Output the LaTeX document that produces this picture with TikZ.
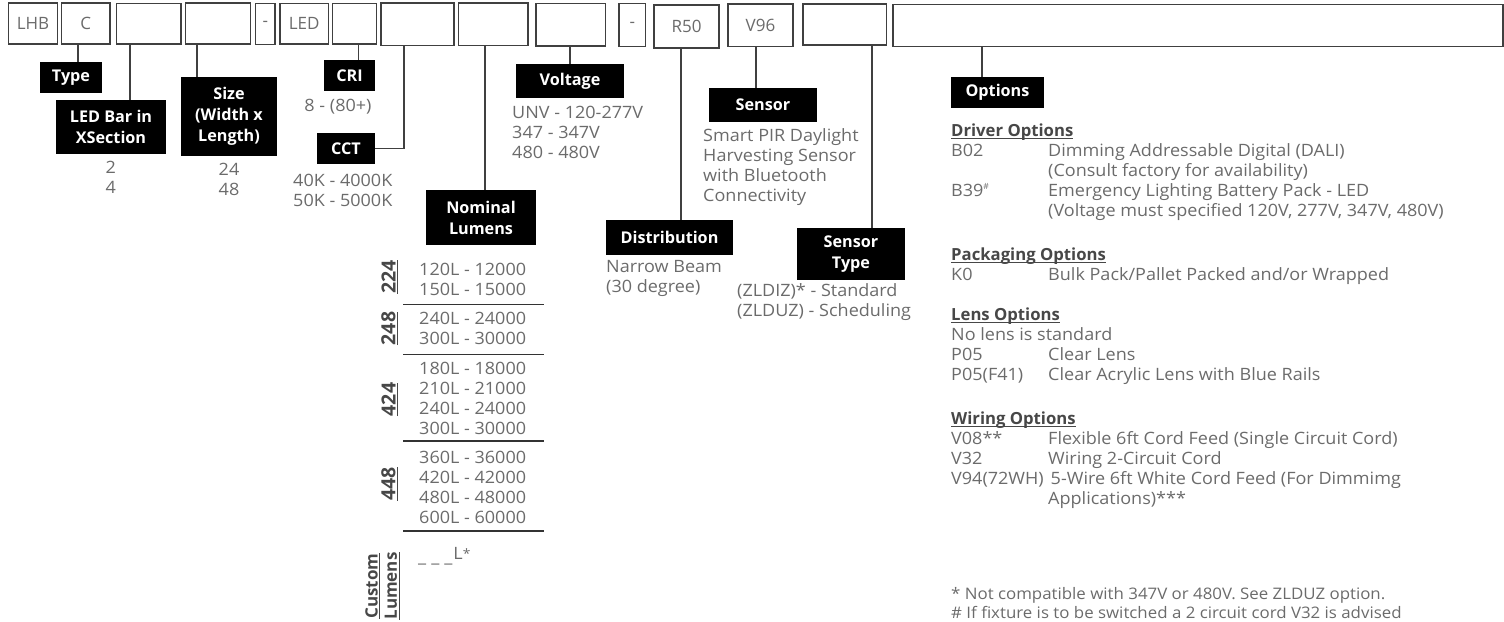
\documentclass[tikz,border=0pt]{standalone}
\usepackage{fontspec}
\setmainfont{Open Sans}
\newfontfamily\widef{Open Sans}[FakeStretch=1.06]
\tikzset{
 x=1pt,y=-1pt,
 boxg/.style={draw=black!75,line width=1.2pt,fill=white,inner sep=0pt,text=black!58,font=\fontsize{17}{18}\selectfont},
 lab/.style={fill=black,text=white,inner sep=0pt,align=center,font=\fontsize{16.2}{21}\selectfont\bfseries},
 conn/.style={draw=black!75,line width=1.1pt},
 txt/.style={anchor=west,inner sep=0pt,text=black!58,align=left,font=\widef\fontsize{17}{20}\selectfont},
 ctxt/.style={inner sep=0pt,text=black!58,align=center,font=\widef\fontsize{17}{20}\selectfont},
 ol/.style={anchor=base west,inner sep=0pt,text=black!58,font=\widef\fontsize{17}{20}\selectfont},
 head/.style={anchor=base west,inner sep=0pt,text=black!72,font=\fontsize{16.7}{20}\selectfont\bfseries},
 rot/.style={rotate=90,inner sep=0pt,text=black!72,font=\fontsize{17}{20}\selectfont\bfseries},
 rotnum/.style={rot,font=\fontsize{19.5}{20}\selectfont\bfseries},
 hr/.style={draw=black!80,line width=1.1pt},
 foot/.style={anchor=base west,inner sep=0pt,text=black!58,font=\widef\fontsize{15.9}{18}\selectfont}
}
\newcommand{\bx}[6]{\node[boxg,minimum width=#4-#2,minimum height=#5-#3] (#1) at ({(#2+#4)/2},{(#3+#5)/2}) {#6};}
\newcommand{\lb}[6]{\node[lab,minimum width=#4-#2,minimum height=#5-#3] (#1) at ({(#2+#4)/2},{(#3+#5)/2}) {#6};}
\newsavebox{\ulbox}
\newcommand{\ul}[1]{\sbox{\ulbox}{#1}\rlap{\raisebox{-2.6pt}[0pt][0pt]{\rule{\wd\ulbox}{1pt}}}\usebox{\ulbox}}
\begin{document}
\begin{tikzpicture}
\useasboundingbox (0,0) rectangle (1504,621);
% top boxes
\bx{bLHB}{8.5}{3}{57.5}{44}{LHB}
\bx{bC}{61.5}{3}{110}{44}{C}
\bx{bBar}{116.5}{3.5}{181}{44}{}
\bx{bSize}{185.5}{3}{250.5}{44}{}
\bx{bD}{255.5}{3.5}{275}{44.5}{-}
\bx{bLED}{280}{3.5}{328.5}{44}{LED}
\bx{bCRI}{332.5}{3.5}{376.5}{44}{}
\bx{bCCT}{381}{3}{454}{45.5}{}
\bx{bLum}{458.5}{3}{528}{45.5}{}
\bx{bVolt}{536}{3.5}{605.5}{46}{}
\bx{bDb}{619}{3.5}{645.5}{46.5}{-}
\bx{bR}{654}{5}{719}{48}{R50}
\bx{bV}{728}{4}{793}{46.5}{V96}
\bx{bST}{803}{4}{886.5}{45}{}
\bx{bOpt}{893}{4.5}{1503}{46.5}{}
% labels
\lb{lType}{40}{62}{102}{93}{Type}
\lb{lBar}{56}{100}{166}{154}{LED Bar in\\XSection}
\lb{lSize}{181}{77}{277}{156}{Size\\(Width x\\Length)}
\lb{lCRI}{324}{60}{375}{91}{CRI}
\lb{lCCT}{317}{133}{375}{164}{CCT}
\lb{lNom}{426}{190}{536}{245}{Nominal\\Lumens}
\lb{lVolt}{516}{64}{624}{98}{Voltage}
\lb{lSen}{709}{88}{817}{122}{Sensor}
\lb{lDist}{606}{220}{733}{255}{Distribution}
\lb{lST}{797}{228}{905}{280}{Sensor\\Type}
\lb{lOpt}{951}{77}{1044}{108}{Options}
% connectors
\draw[conn] (78,0 |- bC.south) -- (78,0 |- lType.north);
\draw[conn] (130,0 |- bBar.south) -- (130,0 |- lBar.north);
\draw[conn] (197,0 |- bSize.south) -- (197,0 |- lSize.north);
\draw[conn] (358.7,0 |- bCRI.south) -- (358.7,0 |- lCRI.north);
\draw[conn] (404,0 |- bCCT.south) |- (lCCT.east);
\draw[conn] (485,0 |- bLum.south) -- (485,0 |- lNom.north);
\draw[conn] (570,0 |- bVolt.south) -- (570,0 |- lVolt.north);
\draw[conn] (681,0 |- bR.south) -- (681,0 |- lDist.north);
\draw[conn] (756,0 |- bV.south) -- (756,0 |- lSen.north);
\draw[conn] (872,0 |- bST.south) -- (872,0 |- lST.north);
\draw[conn] (982,0 |- bOpt.south) -- (982,0 |- lOpt.north);
% value text
\node[ctxt] (t1) at (110.7,177) {2\\4};
\node[ctxt] (t2) at (229,179) {24\\48};
\node[ctxt] (t3) at (338,107) {8 - (80+)};
\node[txt] (t4) at (293,190) {40K - 4000K\\50K - 5000K};
\node[txt] (t5) at (512,132) {UNV - 120-277V\\347 - 347V\\480 - 480V};
\node[txt] (t6) at (703,167) {Smart PIR Daylight\\Harvesting Sensor\\with Bluetooth\\Connectivity};
\node[txt] (t7) at (606,278) {Narrow Beam\\(30 degree)};
\node[txt] (t8) at (737,302) {(ZLDIZ)* - Standard\\(ZLDUZ) - Scheduling};
% lumens
\node[txt] (n1) at (419,279) {120L - 12000\\150L - 15000};
\node[txt] (n2) at (419,328) {240L - 24000\\300L - 30000};
\node[txt] (n3) at (419,398) {180L - 18000\\210L - 21000\\240L - 24000\\300L - 30000};
\node[txt] (n4) at (419,487) {360L - 36000\\420L - 42000\\480L - 48000\\600L - 60000};
\node[ol] (n5) at (418,562) {\_\hspace{5pt}\_\hspace{5pt}\_\hspace{1pt}\raisebox{3pt}{L\raisebox{1pt}{\fontsize{13}{13}\selectfont*}}};
\draw[hr] (403,304.7) -- (544,304.7);
\draw[hr] (403,354.7) -- (544,354.7);
\draw[hr] (403,441) -- (544,441);
\draw[hr] (403,531) -- (544,531);
\node[rotnum] (r1) at (388.5,277) {\ul{224}};
\node[rotnum] (r2) at (388.5,328.5) {\ul{248}};
\node[rotnum] (r3) at (388.5,399.5) {\ul{424}};
\node[rotnum] (r4) at (388.5,484) {\ul{448}};
\node[rot] (r5) at (371.5,586) {\ul{Custom}};
\node[rot] (r6) at (391,586) {\ul{Lumens}};
% options
\node[head] (o1) at (951,136) {\ul{Driver Options}};
\node[ol] (o2) at (951,156) {B02};
\node[ol] (o3a) at (1048,156) {Dimming Addressable Digital (DALI)};
\node[ol] (o3b) at (1048,176) {(Consult factory for availability)};
\node[ol] (o4) at (951,196) {B39$^{\scriptscriptstyle\#}$};
\node[ol] (o5a) at (1048,196) {Emergency Lighting Battery Pack - LED};
\node[ol] (o5b) at (1048,216) {(Voltage must specified 120V, 277V, 347V, 480V)};
\node[head] (o6) at (951,260) {\ul{Packaging Options}};
\node[ol] (o7) at (951,280) {K0};
\node[ol] (o8) at (1048,280) {Bulk Pack/Pallet Packed and/or Wrapped};
\node[head] (o9) at (951,320.5) {\ul{Lens Options}};
\node[ol] (o10) at (951,340.5) {No lens is standard};
\node[ol] (o11) at (951,360) {P05};
\node[ol] (o12) at (1048,360) {Clear Lens};
\node[ol] (o13) at (951,380) {P05(F41)};
\node[ol] (o14) at (1048,380) {Clear Acrylic Lens with Blue Rails};
\node[head] (o15) at (951,424) {\ul{Wiring Options}};
\node[ol] (o16) at (951,444) {V08**};
\node[ol] (o17) at (1048,444) {Flexible 6ft Cord Feed (Single Circuit Cord)};
\node[ol] (o18) at (951,464) {V32};
\node[ol] (o19) at (1048,464) {Wiring 2-Circuit Cord};
\node[ol] (o20) at (951,484) {V94(72WH)};
\node[ol] (o21) at (1050.5,484) {5-Wire 6ft White Cord Feed (For Dimmimg};
\node[ol] (o22) at (1048,504) {Applications)***};
\node[foot] (f1) at (951,599) {* Not compatible with 347V or 480V. See ZLDUZ option.};
\node[foot] (f2) at (951,618) {\# If fixture is to be switched a 2 circuit cord V32 is advised};
\end{tikzpicture}
\end{document}
